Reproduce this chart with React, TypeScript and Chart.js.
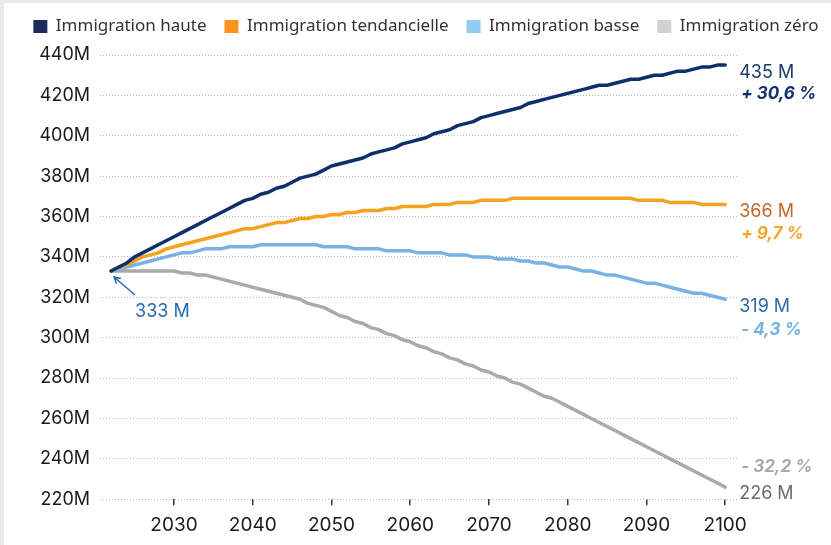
import React, { useEffect, useRef } from "react";
import { Chart, registerables } from "chart.js";

Chart.register(...registerables);

const FIRST_YEAR = 2022;
const TICK_YEARS = [2030, 2040, 2050, 2060, 2070, 2080, 2090, 2100];

const SERIES_LABELS = [
  "Immigration haute",
  "Immigration tendancielle",
  "Immigration basse",
  "Immigration zéro",
];

const HAUTE = [
  333, 335, 337, 340, 342, 344, 346, 348, 350, 352,
  354, 356, 358, 360, 362, 364, 366, 368, 369, 371,
  372, 374, 375, 377, 379, 380, 381, 383, 385, 386,
  387, 388, 389, 391, 392, 393, 394, 396, 397, 398,
  399, 401, 402, 403, 405, 406, 407, 409, 410, 411,
  412, 413, 414, 416, 417, 418, 419, 420, 421, 422,
  423, 424, 425, 425, 426, 427, 428, 428, 429, 430,
  430, 431, 432, 432, 433, 434, 434, 435, 435,
];

const TENDANCIELLE = [
  333, 335, 336, 338, 340, 341, 342, 344, 345, 346,
  347, 348, 349, 350, 351, 352, 353, 354, 354, 355,
  356, 357, 357, 358, 359, 359, 360, 360, 361, 361,
  362, 362, 363, 363, 363, 364, 364, 365, 365, 365,
  365, 366, 366, 366, 367, 367, 367, 368, 368, 368,
  368, 369, 369, 369, 369, 369, 369, 369, 369, 369,
  369, 369, 369, 369, 369, 369, 369, 368, 368, 368,
  368, 367, 367, 367, 367, 366, 366, 366, 366,
];

const BASSE = [
  333, 334, 335, 336, 337, 338, 339, 340, 341, 342,
  342, 343, 344, 344, 344, 345, 345, 345, 345, 346,
  346, 346, 346, 346, 346, 346, 346, 345, 345, 345,
  345, 344, 344, 344, 344, 343, 343, 343, 343, 342,
  342, 342, 342, 341, 341, 341, 340, 340, 340, 339,
  339, 339, 338, 338, 337, 337, 336, 335, 335, 334,
  333, 333, 332, 331, 331, 330, 329, 328, 327, 327,
  326, 325, 324, 323, 322, 322, 321, 320, 319,
];

const ZERO = [
  333, 333, 333, 333, 333, 333, 333, 333, 333, 332,
  332, 331, 331, 330, 329, 328, 327, 326, 325, 324,
  323, 322, 321, 320, 319, 317, 316, 315, 313, 311,
  310, 308, 307, 305, 304, 302, 301, 299, 298, 296,
  295, 293, 292, 290, 289, 287, 286, 284, 283, 281,
  280, 278, 277, 275, 273, 271, 270, 268, 266, 264,
  262, 260, 258, 256, 254, 252, 250, 248, 246, 244,
  242, 240, 238, 236, 234, 232, 230, 228, 226,
];

const PCT_LABELS = ["+ 30,6 %", "+ 9,7 %", "- 4,3 %", "- 32,2 %"];
const START_LABEL = "333 M";

const LINE_COLORS = ["#0f2f6c", "#f6a21f", "#78b2e4", "#a8aaad"];
const LEGEND_COLORS = ["#1f2a5c", "#f7931e", "#8ecdf1", "#d1d2d4"];
const VALUE_COLORS = ["#1b3a6b", "#c3662b", "#2d6aa8", "#6b6d70"];
const PCT_COLORS = ["#13306a", "#f5a524", "#73b0e6", "#a6a8aa"];

const ALL_SERIES = [HAUTE, TENDANCIELLE, BASSE, ZERO];
const YEARS = HAUTE.map((_, i) => FIRST_YEAR + i);

const annotations = {
  id: "annotations",
  afterDatasetsDraw(chart: any) {
    const { ctx, scales } = chart;
    const xs = scales.x;
    const ys = scales.y;
    const lastYear = YEARS[YEARS.length - 1];
    const xe = xs.getPixelForValue(lastYear) + 14;
    ctx.save();
    ctx.textAlign = "left";
    ctx.textBaseline = "middle";
    ALL_SERIES.forEach((s, i) => {
      const v = s[s.length - 1];
      const py = ys.getPixelForValue(v);
      ctx.font = '18px Inter, "Liberation Sans", sans-serif';
      ctx.fillStyle = VALUE_COLORS[i];
      ctx.fillText(`${v} M`, xe, py + 7);
      ctx.font = 'italic bold 17px Inter, "Liberation Sans", sans-serif';
      ctx.fillStyle = PCT_COLORS[i];
      const dy = i === 3 ? -20 : i === 2 ? 31 : 29;
      ctx.fillText(PCT_LABELS[i], xe + 2, py + dy);
    });
    // start label with arrow
    const x0 = xs.getPixelForValue(YEARS[0]);
    const y0 = ys.getPixelForValue(HAUTE[0]);
    ctx.font = '18px Inter, "Liberation Sans", sans-serif';
    ctx.fillStyle = "#2469b3";
    ctx.fillText(START_LABEL, x0 + 24, y0 + 41);
    const tx = x0 + 24, ty = y0 + 24, hx = x0 + 3, hy = y0 + 6;
    ctx.strokeStyle = "#2469b3";
    ctx.lineWidth = 1.5;
    ctx.beginPath();
    ctx.moveTo(tx, ty);
    ctx.lineTo(hx, hy);
    const ang = Math.atan2(ty - hy, tx - hx);
    const L = 7;
    ctx.moveTo(hx + L * Math.cos(ang + 0.5), hy + L * Math.sin(ang + 0.5));
    ctx.lineTo(hx, hy);
    ctx.lineTo(hx + L * Math.cos(ang - 0.5), hy + L * Math.sin(ang - 0.5));
    ctx.stroke();
    ctx.restore();
  },
};

const legendFit = {
  id: "legendFit",
  beforeLayout(chart: any) {
    const lg = chart.legend;
    if (lg && !lg.__patched) {
      const orig = lg.fit;
      lg.fit = function () {
        this.maxWidth = 2000;
        orig.call(this);
        this.height = 57;
      };
      lg.__patched = true;
    }
  },
  afterLayout(chart: any) {
    const lg = chart.legend;
    if (lg) {
      lg.left = 0;
      lg.right = 844;
      lg.width = 844;
      lg.top = 2;
    }
  },
};

export default function App() {
  const ref = useRef<HTMLCanvasElement | null>(null);

  useEffect(() => {
    document.body.style.margin = "0";
    document.body.style.background = "#e9eaec";
    const canvas = ref.current;
    if (!canvas) return;
    const chart = new Chart(canvas, {
      type: "line",
      data: {
        datasets: ALL_SERIES.map((s, i) => ({
          label: SERIES_LABELS[i],
          data: s.map((v, j) => ({ x: YEARS[j], y: v })),
          borderColor: LINE_COLORS[i],
          backgroundColor: LINE_COLORS[i],
          borderWidth: 3.5,
          pointRadius: 0,
          tension: 0,
          fill: false,
          borderCapStyle: "round",
          borderJoinStyle: "round",
        })),
      },
      options: {
        animation: false,
        responsive: false,
        devicePixelRatio: 1,
        layout: { padding: { left: 16, right: 0, top: 0, bottom: 0 } },
        plugins: {
          tooltip: { enabled: false },
          legend: {
            position: "top",
            align: "center",
            labels: {
              boxWidth: 14,
              boxHeight: 13,
              padding: 18,
              color: "#333333",
              font: { family: '"Noto Sans", sans-serif', size: 17 },
              generateLabels: (c: any) =>
                c.data.datasets.map((ds: any, i: number) => ({
                  text: ds.label,
                  fillStyle: LEGEND_COLORS[i],
                  strokeStyle: LEGEND_COLORS[i],
                  lineWidth: 0,
                  hidden: false,
                  datasetIndex: i,
                  fontColor: "#333333",
                })),
            },
          },
        },
        scales: {
          x: {
            type: "linear",
            min: 2020.6,
            max: 2101.5,
            afterBuildTicks: (s: any) => {
              s.ticks = TICK_YEARS.map((v) => ({ value: v }));
            },
            grid: {
              drawOnChartArea: false,
              drawTicks: true,
              tickLength: 6,
              color: "#333333",
              lineWidth: 1.5,
            },
            border: { display: false },
            ticks: {
              padding: 9,
              color: "#1a1a1a",
              font: { family: 'Inter, "Liberation Sans", sans-serif', size: 19 },
              maxRotation: 0,
              autoSkip: false,
              callback: (v: any) => String(v),
            },
          },
          y: {
            type: "linear",
            min: 220,
            max: 440,
            afterFit: (s: any) => {
              s.width = 80;
            },
            grid: {
              drawTicks: false,
              color: "#b8b8b8",
              lineWidth: 1,
            },
            border: { display: false, dash: [1, 2] },
            ticks: {
              stepSize: 20,
              padding: 10,
              color: "#1a1a1a",
              font: { family: 'Inter, "Liberation Sans", sans-serif', size: 18 },
              callback: (v: any) => `${v}M`,
            },
          },
          y2: {
            type: "linear",
            position: "right",
            display: true,
            afterFit: (s: any) => {
              s.width = 94;
            },
            grid: { display: false, drawOnChartArea: false, drawTicks: false },
            border: { display: false },
            ticks: { display: false },
          },
        },
      },
      plugins: [legendFit, annotations],
    } as any);
    return () => chart.destroy();
  }, []);

  return (
    <div
      style={{
        position: "absolute",
        left: 4,
        top: 3,
        width: 827,
        height: 542,
        background: "#ffffff",
        overflow: "hidden",
      }}
    >
      <canvas
        ref={ref}
        width={827}
        height={548}
        style={{ position: "absolute", left: 0, top: -5, display: "block", width: 827, height: 548 }}
      />
    </div>
  );
}
